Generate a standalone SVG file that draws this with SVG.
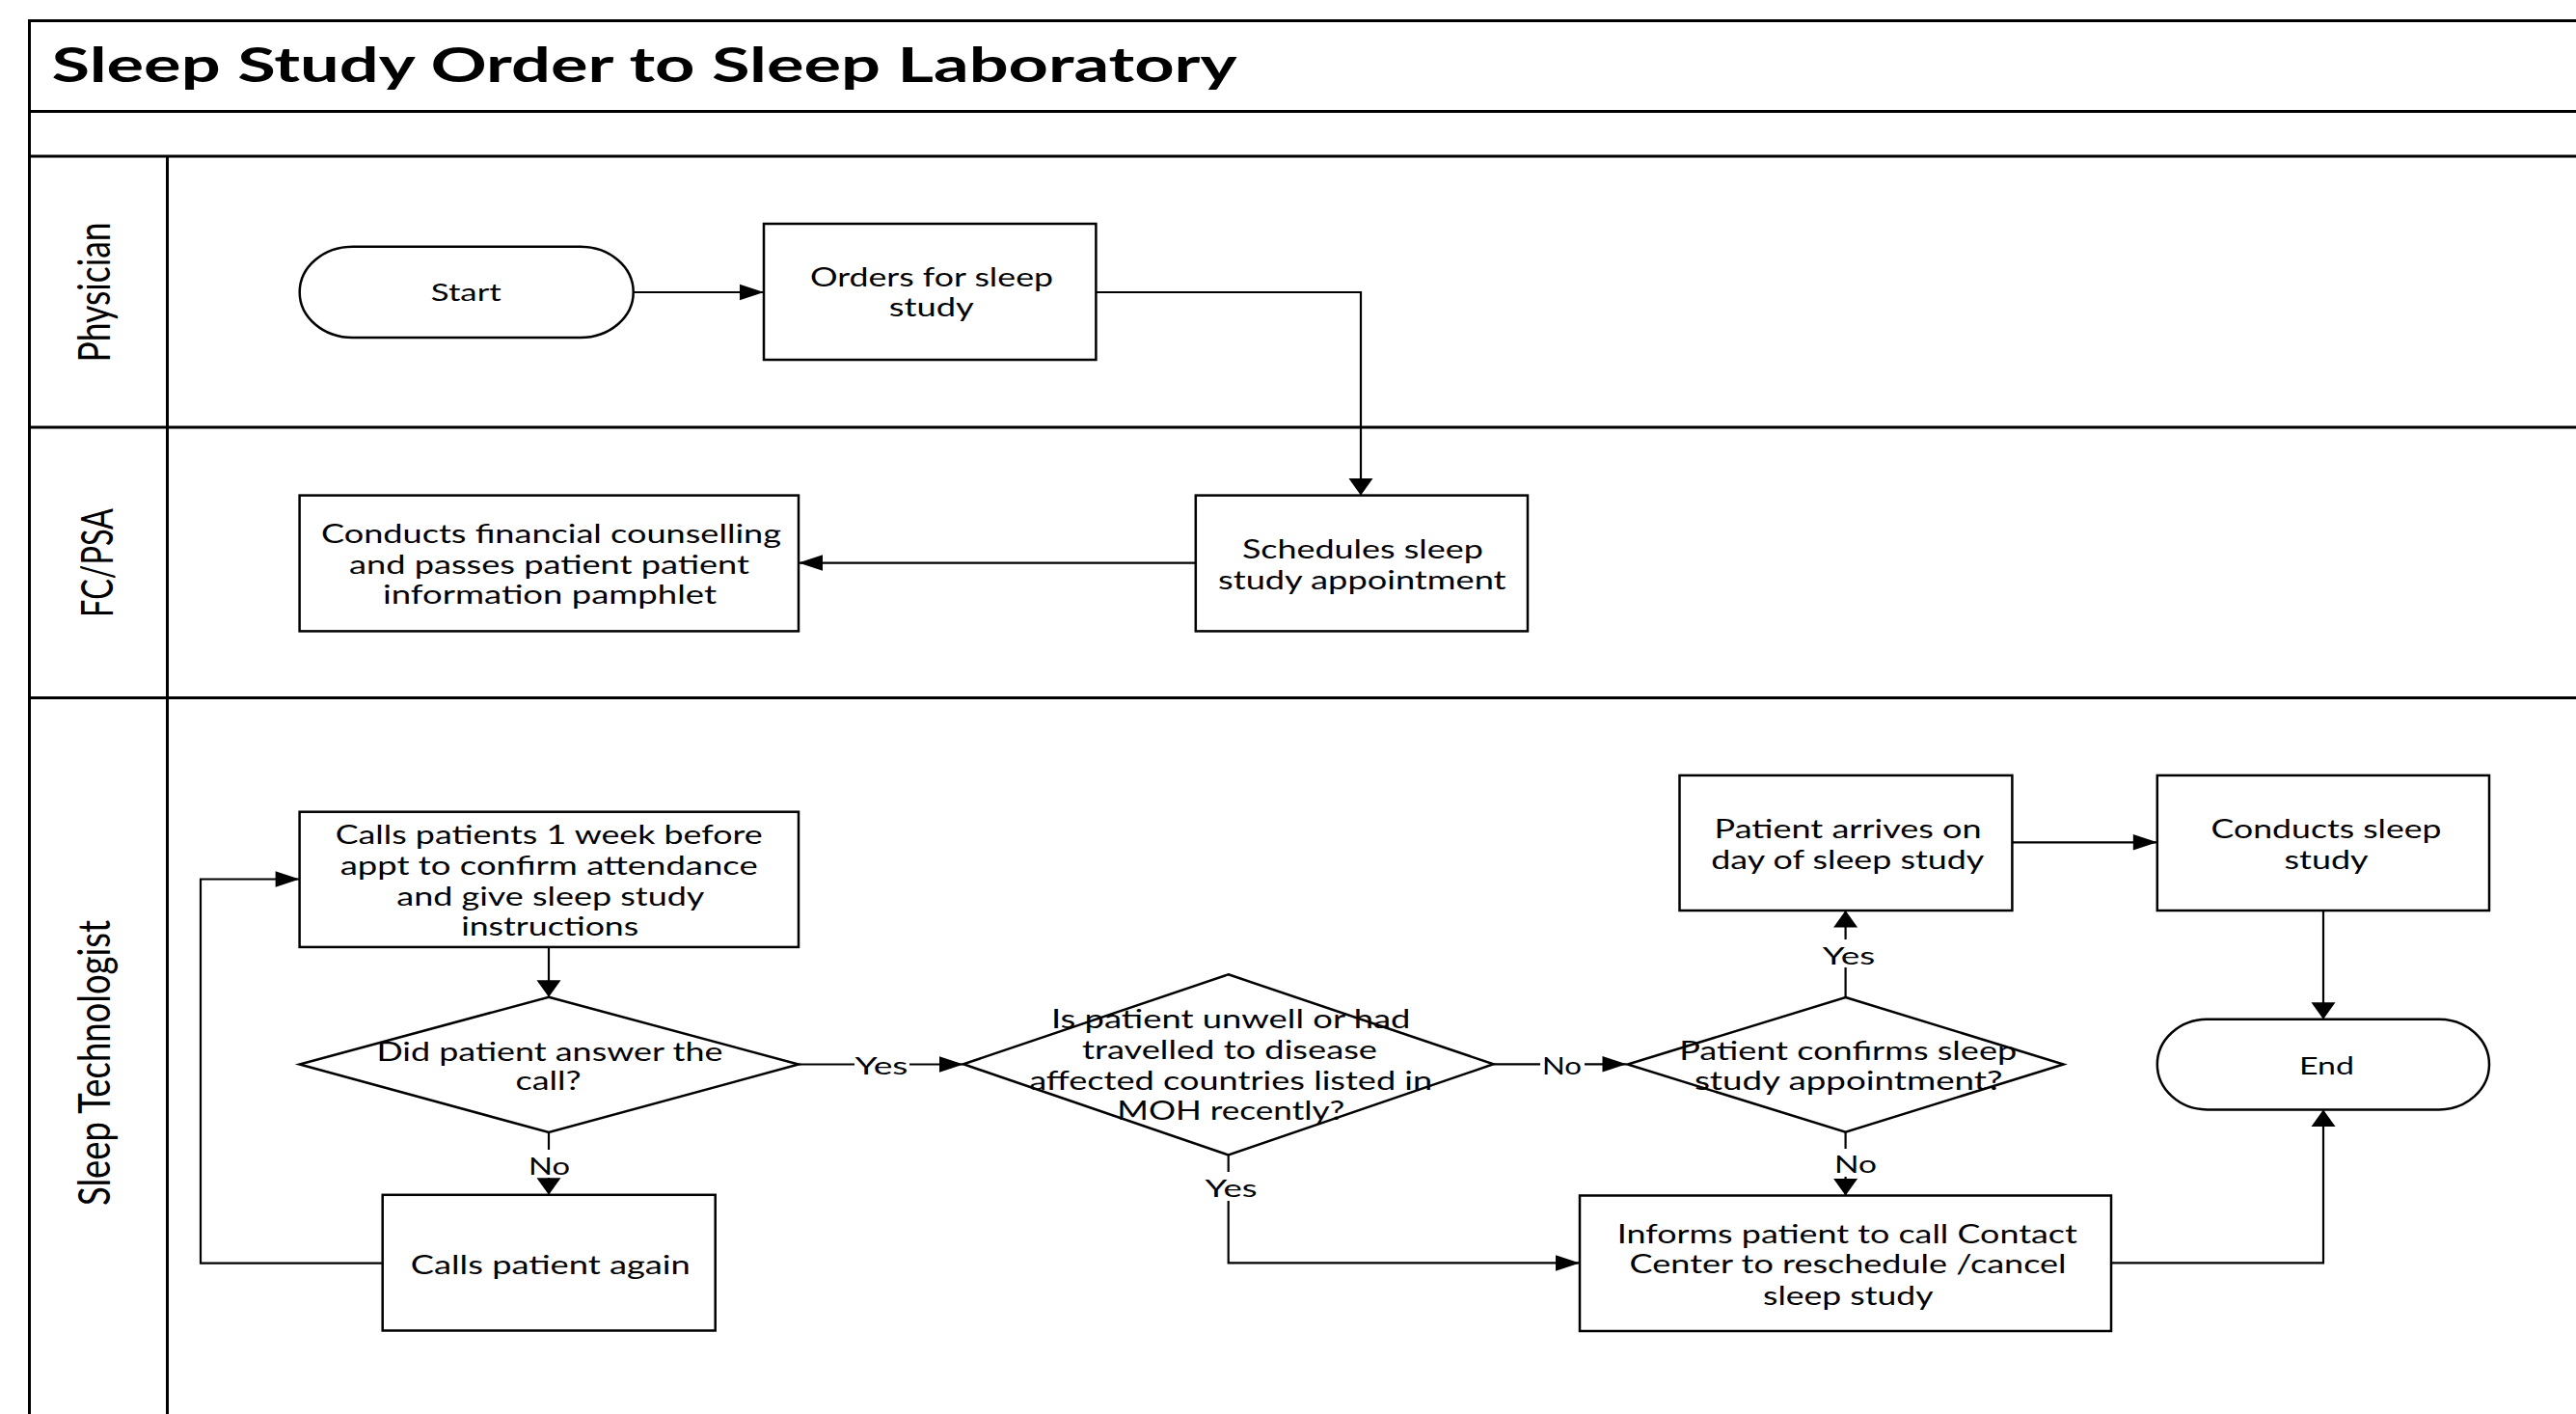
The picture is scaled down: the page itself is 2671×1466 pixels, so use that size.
<svg xmlns="http://www.w3.org/2000/svg" width="2671" height="1466" viewBox="0 0 2671 1466">
<style>
.frame{fill:none;stroke:#000;stroke-width:3}
.box{fill:#fff;stroke:#000;stroke-width:2.5}
.conn{fill:none;stroke:#000;stroke-width:2.2}
.t{font-family:Lato,"Liberation Sans",Arial,sans-serif;font-size:26px;fill:#000;text-anchor:middle}
.lbl{font-family:Lato,"Liberation Sans",Arial,sans-serif;font-size:25px;fill:#000;text-anchor:middle}
.lane{font-family:Lato,"Liberation Sans",Arial,sans-serif;font-size:34px;fill:#000;text-anchor:middle}
.title{font-family:Lato,"Liberation Sans",Arial,sans-serif;font-size:49px;font-weight:bold;fill:#000}
.bg{fill:#fff}
</style>
<defs>
<marker id="ah" markerUnits="userSpaceOnUse" orient="auto" markerWidth="25" markerHeight="17" refX="25" refY="8.25" viewBox="0 0 25 16.5" overflow="visible"><path d="M0,0 L25,8.25 L0,16.5 Z" fill="#000"/></marker>
<marker id="av" markerUnits="userSpaceOnUse" orient="auto" markerWidth="18" markerHeight="25" refX="17.5" refY="12.5" viewBox="0 0 17.5 25" overflow="visible"><path d="M0,0 L17.5,12.5 L0,25 Z" fill="#000"/></marker>
</defs>
<rect width="2671" height="1466" fill="#fff"/>
<g id="pool">
<rect class="frame" x="30.5" y="21.5" width="2700" height="1500"/>
<line class="frame" x1="30" y1="115.5" x2="2671" y2="115.5"/>
<line class="frame" x1="30" y1="162" x2="2671" y2="162"/>
<line class="frame" x1="30" y1="443" x2="2671" y2="443"/>
<line class="frame" x1="30" y1="723.5" x2="2671" y2="723.5"/>
<line class="frame" x1="173.5" y1="162" x2="173.5" y2="1466"/>
<text class="title" x="53.6" y="85" textLength="1229" lengthAdjust="spacingAndGlyphs">Sleep Study Order to Sleep Laboratory</text>
<text class="lane" transform="translate(102,303) scale(1.35,1) rotate(-90)" x="0" y="9" textLength="145" lengthAdjust="spacingAndGlyphs">Physician</text>
<text class="lane" transform="translate(102,583.5) scale(1.35,1) rotate(-90)" x="0" y="11" textLength="113" lengthAdjust="spacingAndGlyphs">FC/PSA</text>
<text class="lane" transform="translate(102,1102) scale(1.35,1) rotate(-90)" x="0" y="9" textLength="296" lengthAdjust="spacingAndGlyphs">Sleep Technologist</text>
</g>
<g id="connectors">
<path class="conn" d="M656,303 H792" marker-end="url(#ah)"/>
<path class="conn" d="M1136.4,303 H1411 V513.6" marker-end="url(#av)"/>
<path class="conn" d="M1239.8,583.6 H828" marker-end="url(#ah)"/>
<path class="conn" d="M569,981.9 V1033.7" marker-end="url(#av)"/>
<path class="conn" d="M569,1174 V1238.8" marker-end="url(#av)"/>
<path class="conn" d="M396.7,1309.7 H208 V911.5 H310.6" marker-end="url(#ah)"/>
<path class="conn" d="M828,1103.5 H999" marker-end="url(#ah)"/>
<path class="conn" d="M1548.6,1103.3 H1686.5" marker-end="url(#ah)"/>
<path class="conn" d="M1273.7,1197.5 V1309.4 H1638" marker-end="url(#ah)"/>
<path class="conn" d="M1913.6,1034 V944" marker-end="url(#av)"/>
<path class="conn" d="M1913.6,1173.7 V1239.5" marker-end="url(#av)"/>
<path class="conn" d="M2086.4,873.3 H2236.8" marker-end="url(#ah)"/>
<path class="conn" d="M2409,944 V1056.8" marker-end="url(#av)"/>
<path class="conn" d="M2189,1309.4 H2409 V1150.4" marker-end="url(#av)"/>
<rect class="bg" x="886" y="1090" width="57" height="28"/>
<text class="lbl" x="914" y="1114" textLength="55" lengthAdjust="spacingAndGlyphs">Yes</text>
<rect class="bg" x="1597" y="1090" width="46" height="28"/>
<text class="lbl" x="1619.5" y="1114" textLength="41" lengthAdjust="spacingAndGlyphs">No</text>
<rect class="bg" x="546" y="1192" width="47" height="29"/>
<text class="lbl" x="569.5" y="1218" textLength="43" lengthAdjust="spacingAndGlyphs">No</text>
<rect class="bg" x="1248" y="1215" width="58" height="30"/>
<text class="lbl" x="1276.6" y="1241" textLength="54" lengthAdjust="spacingAndGlyphs">Yes</text>
<rect class="bg" x="1889" y="974" width="57" height="29"/>
<text class="lbl" x="1917" y="1000" textLength="54.5" lengthAdjust="spacingAndGlyphs">Yes</text>
<rect class="bg" x="1900" y="1191" width="47" height="29"/>
<text class="lbl" x="1924" y="1216" textLength="44" lengthAdjust="spacingAndGlyphs">No</text>
</g>
<g id="start">
<rect class="box" x="310.7" y="255.7" width="346" height="94.3" rx="55" ry="47"/>
<text class="lbl" x="483.3" y="312" textLength="73" lengthAdjust="spacingAndGlyphs">Start</text>
</g>
<g id="orders">
<rect class="box" x="792" y="232" width="344.4" height="141"/>
<text class="t" x="966" y="296.5" textLength="252" lengthAdjust="spacingAndGlyphs">Orders for sleep</text>
<text class="t" x="965.8" y="328" textLength="88" lengthAdjust="spacingAndGlyphs">study</text>
</g>
<g id="schedules">
<rect class="box" x="1239.8" y="513.6" width="344.2" height="140.8"/>
<text class="t" x="1412.9" y="579" textLength="250" lengthAdjust="spacingAndGlyphs">Schedules sleep</text>
<text class="t" x="1412.3" y="611" textLength="298.6" lengthAdjust="spacingAndGlyphs">study appointment</text>
</g>
<g id="financial">
<rect class="box" x="310.6" y="513.6" width="517.4" height="140.8"/>
<text class="t" x="571.5" y="562.5" textLength="477" lengthAdjust="spacingAndGlyphs">Conducts financial counselling</text>
<text class="t" x="569.5" y="594.5" textLength="415" lengthAdjust="spacingAndGlyphs">and passes patient patient</text>
<text class="t" x="570" y="626" textLength="346" lengthAdjust="spacingAndGlyphs">information pamphlet</text>
</g>
<g id="calls-week">
<rect class="box" x="310.6" y="841.7" width="517.4" height="140.2"/>
<text class="t" x="569.2" y="875" textLength="443" lengthAdjust="spacingAndGlyphs">Calls patients 1 week before</text>
<text class="t" x="569.2" y="907" textLength="433" lengthAdjust="spacingAndGlyphs">appt to confirm attendance</text>
<text class="t" x="570.8" y="938.6" textLength="319" lengthAdjust="spacingAndGlyphs">and give sleep study</text>
<text class="t" x="570.2" y="970.4" textLength="184" lengthAdjust="spacingAndGlyphs">instructions</text>
</g>
<g id="answered">
<polygon class="box" points="569,1033.7 828,1103.5 569,1174 310.6,1103.5"/>
<text class="t" x="569.9" y="1099.8" textLength="359" lengthAdjust="spacingAndGlyphs">Did patient answer the</text>
<text class="t" x="568.5" y="1129.5" textLength="68" lengthAdjust="spacingAndGlyphs">call?</text>
</g>
<g id="calls-again">
<rect class="box" x="396.7" y="1238.8" width="345" height="140.7"/>
<text class="t" x="570.8" y="1321" textLength="290" lengthAdjust="spacingAndGlyphs">Calls patient again</text>
</g>
<g id="unwell">
<polygon class="box" points="1273.7,1010.3 1548.6,1103.3 1273.7,1197.5 998.9,1103.3"/>
<text class="t" x="1276.2" y="1066.3" textLength="372.5" lengthAdjust="spacingAndGlyphs">Is patient unwell or had</text>
<text class="t" x="1275" y="1098.3" textLength="306" lengthAdjust="spacingAndGlyphs">travelled to disease</text>
<text class="t" x="1276.2" y="1129.8" textLength="418" lengthAdjust="spacingAndGlyphs">affected countries listed in</text>
<text class="t" x="1276.3" y="1160.8" textLength="236" lengthAdjust="spacingAndGlyphs">MOH recently?</text>
</g>
<g id="confirms">
<polygon class="box" points="1913.6,1034 2139.6,1103.5 1913.6,1173.7 1687.6,1103.5"/>
<text class="t" x="1916.2" y="1099" textLength="350" lengthAdjust="spacingAndGlyphs">Patient confirms sleep</text>
<text class="t" x="1916.7" y="1129.8" textLength="319.5" lengthAdjust="spacingAndGlyphs">study appointment?</text>
</g>
<g id="arrives">
<rect class="box" x="1741.5" y="803.9" width="344.9" height="140.1"/>
<text class="t" x="1916.1" y="868.6" textLength="277" lengthAdjust="spacingAndGlyphs">Patient arrives on</text>
<text class="t" x="1915.8" y="900.5" textLength="283" lengthAdjust="spacingAndGlyphs">day of sleep study</text>
</g>
<g id="conducts-study">
<rect class="box" x="2236.8" y="803.9" width="344.2" height="140.1"/>
<text class="t" x="2412.1" y="868.6" textLength="239" lengthAdjust="spacingAndGlyphs">Conducts sleep</text>
<text class="t" x="2412" y="900.5" textLength="87" lengthAdjust="spacingAndGlyphs">study</text>
</g>
<g id="informs">
<rect class="box" x="1638" y="1239.5" width="551" height="140.5"/>
<text class="t" x="1915.3" y="1288.7" textLength="477" lengthAdjust="spacingAndGlyphs">Informs patient to call Contact</text>
<text class="t" x="1916.1" y="1319.7" textLength="453" lengthAdjust="spacingAndGlyphs">Center to reschedule /cancel</text>
<text class="t" x="1916.3" y="1352.6" textLength="176.6" lengthAdjust="spacingAndGlyphs">sleep study</text>
</g>
<g id="end">
<rect class="box" x="2236.8" y="1056.8" width="344.2" height="93.6" rx="52" ry="46.8"/>
<text class="lbl" x="2412.5" y="1113.5" textLength="57" lengthAdjust="spacingAndGlyphs">End</text>
</g>
</svg>
